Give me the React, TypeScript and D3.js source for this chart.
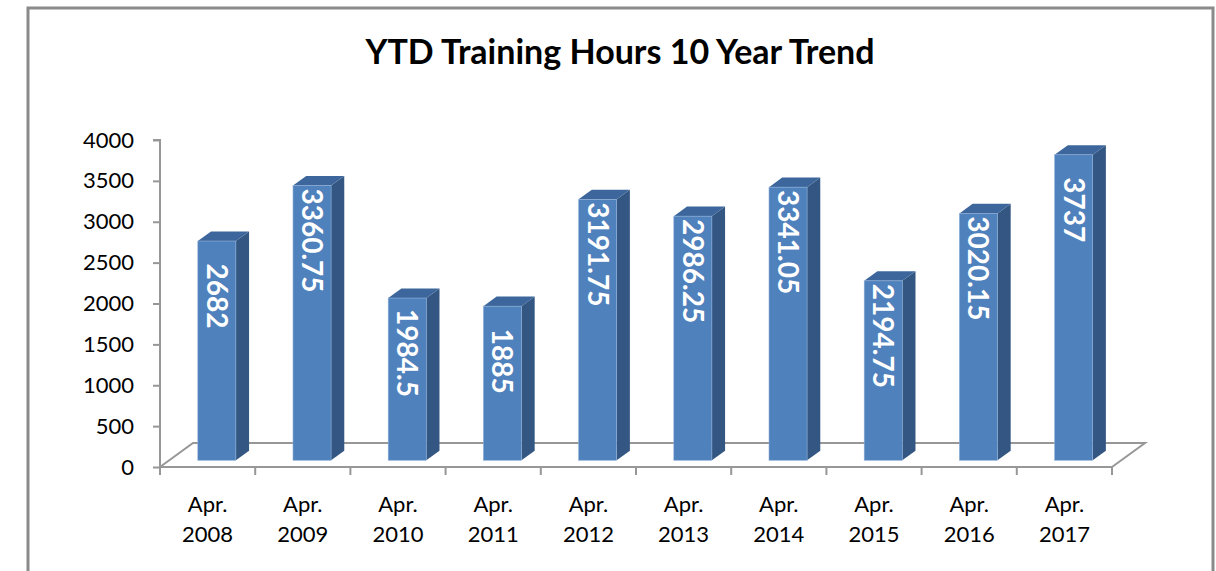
import * as d3 from "d3"
import { useRef, useEffect } from "react"

const title = "YTD Training Hours 10 Year Trend"
const month = "Apr."
const years = ["2008", "2009", "2010", "2011", "2012", "2013", "2014", "2015", "2016", "2017"]
const hours = [2682, 3360.75, 1984.5, 1885, 3191.75, 2986.25, 3341.05, 2194.75, 3020.15, 3737]
const yTicks = [0, 500, 1000, 1500, 2000, 2500, 3000, 3500, 4000]

const W = 1216
const H = 571
const FONT = "Lato, 'Open Sans', sans-serif"

export default function App() {
  const svgRef = useRef<SVGSVGElement>(null)

  useEffect(() => {
    if (!svgRef.current) return
    const svg = d3.select(svgRef.current)
    svg.selectAll("*").remove()

    const plot = { left: 160, right: 1112, top: 140, bottom: 467 }
    // floor depth (3d offset of the back edge)
    const depth = { dx: 33, dy: -24 }
    const f1 = 0.28
    const f2 = 0.68

    const x = d3
      .scaleBand()
      .domain(years)
      .range([plot.left, plot.right])
      .paddingInner(0.6)
      .paddingOuter(0.3)
    const y = d3.scaleLinear().domain([0, 4000]).range([plot.bottom, plot.top])

    const axisColor = "#979797"

    // frame
    svg
      .append("rect")
      .attr("x", 28)
      .attr("y", 8)
      .attr("width", 1185)
      .attr("height", 620)
      .attr("fill", "#fff")
      .attr("stroke", "#8a8a8a")
      .attr("stroke-width", 3)

    svg
      .append("text")
      .attr("x", 620)
      .attr("y", 64)
      .attr("text-anchor", "middle")
      .style("font-family", FONT)
      .style("font-weight", "bold")
      .style("font-size", "34px")
      .attr("fill", "#000")
      .text(title)

    // floor outline
    const floor = [
      [plot.left, plot.bottom],
      [plot.left + depth.dx, plot.bottom + depth.dy],
      [plot.right + depth.dx, plot.bottom + depth.dy],
      [plot.right, plot.bottom],
    ]
    svg
      .append("path")
      .attr("d", d3.line()(floor as [number, number][]))
      .attr("fill", "none")
      .attr("stroke", axisColor)
      .attr("stroke-width", 2)

    // y axis
    svg
      .append("g")
      .attr("transform", `translate(${plot.left},0)`)
      .call(d3.axisLeft(y).tickValues(yTicks).tickSize(7).tickPadding(19).tickFormat(d3.format("d")))
      .call((g) => g.select(".domain").attr("stroke", axisColor).attr("stroke-width", 2).attr("d", `M-7,${plot.top}H0V${plot.bottom}`))
      .call((g) => g.selectAll(".tick line").attr("stroke", axisColor).attr("stroke-width", 2))
      .call((g) =>
        g
          .selectAll("text")
          .style("font-family", FONT)
          .style("font-size", "22px")
          .attr("fill", "#000"),
      )

    // x axis line + ticks at band boundaries
    const step = x.step()
    svg
      .append("line")
      .attr("x1", plot.left)
      .attr("x2", plot.right)
      .attr("y1", plot.bottom)
      .attr("y2", plot.bottom)
      .attr("stroke", axisColor)
      .attr("stroke-width", 2)
    svg
      .append("g")
      .selectAll("line")
      .data(d3.range(years.length + 1))
      .enter()
      .append("line")
      .attr("x1", (i) => plot.left + i * step)
      .attr("x2", (i) => plot.left + i * step)
      .attr("y1", plot.bottom)
      .attr("y2", plot.bottom + 8)
      .attr("stroke", axisColor)
      .attr("stroke-width", 2)

    const xl = svg
      .append("g")
      .selectAll("text")
      .data(years)
      .enter()
      .append("text")
      .attr("text-anchor", "middle")
      .style("font-family", FONT)
      .style("font-size", "22px")
      .attr("fill", "#000")
    xl.append("tspan")
      .attr("x", (d) => (x(d) ?? 0) + x.bandwidth() / 2)
      .attr("y", 512)
      .text(month)
    xl.append("tspan")
      .attr("x", (d) => (x(d) ?? 0) + x.bandwidth() / 2)
      .attr("y", 542)
      .text((d) => d)

    // bars
    const bw = x.bandwidth()
    const ox = f1 * depth.dx
    const oy = f1 * depth.dy
    const bx = (f2 - f1) * depth.dx
    const by = (f2 - f1) * depth.dy
    const data = years.map((yr, i) => ({ yr, v: hours[i] }))

    const bars = svg.append("g").selectAll("g").data(data).enter().append("g")
    bars.each(function (d) {
      const g = d3.select(this)
      const fx = (x(d.yr) ?? 0) + ox
      const top = y(d.v) + oy
      const base = plot.bottom + oy
      g.append("polygon")
        .attr("points", [[fx + bw, top], [fx + bw + bx, top + by], [fx + bw + bx, base + by], [fx + bw, base]].join(" "))
        .attr("fill", "#335782")
      g.append("polygon")
        .attr("points", [[fx, top], [fx + bx, top + by], [fx + bw + bx, top + by], [fx + bw, top]].join(" "))
        .attr("fill", "#3d679c")
      g.append("rect")
        .attr("x", fx)
        .attr("y", top)
        .attr("width", bw)
        .attr("height", base - top)
        .attr("fill", "#4f81bd")
        .attr("stroke", "#8fb0d8")
        .attr("stroke-width", 0.6)
      const cx = fx + bw / 2
      const cy = top + 55
      g.append("text")
        .attr("x", cx)
        .attr("y", cy)
        .attr("dy", "0.36em")
        .attr("text-anchor", "middle")
        .attr("transform", `rotate(90,${cx},${cy})`)
        .style("font-family", FONT)
        .style("font-weight", "bold")
        .style("font-size", "28px")
        .attr("fill", "#fff")
        .text(String(d.v))
    })
  }, [])

  return (
    <svg
      ref={svgRef}
      width={W}
      height={H}
      style={{ position: "absolute", left: 0, top: 0, background: "#fff" }}
    ></svg>
  )
}
